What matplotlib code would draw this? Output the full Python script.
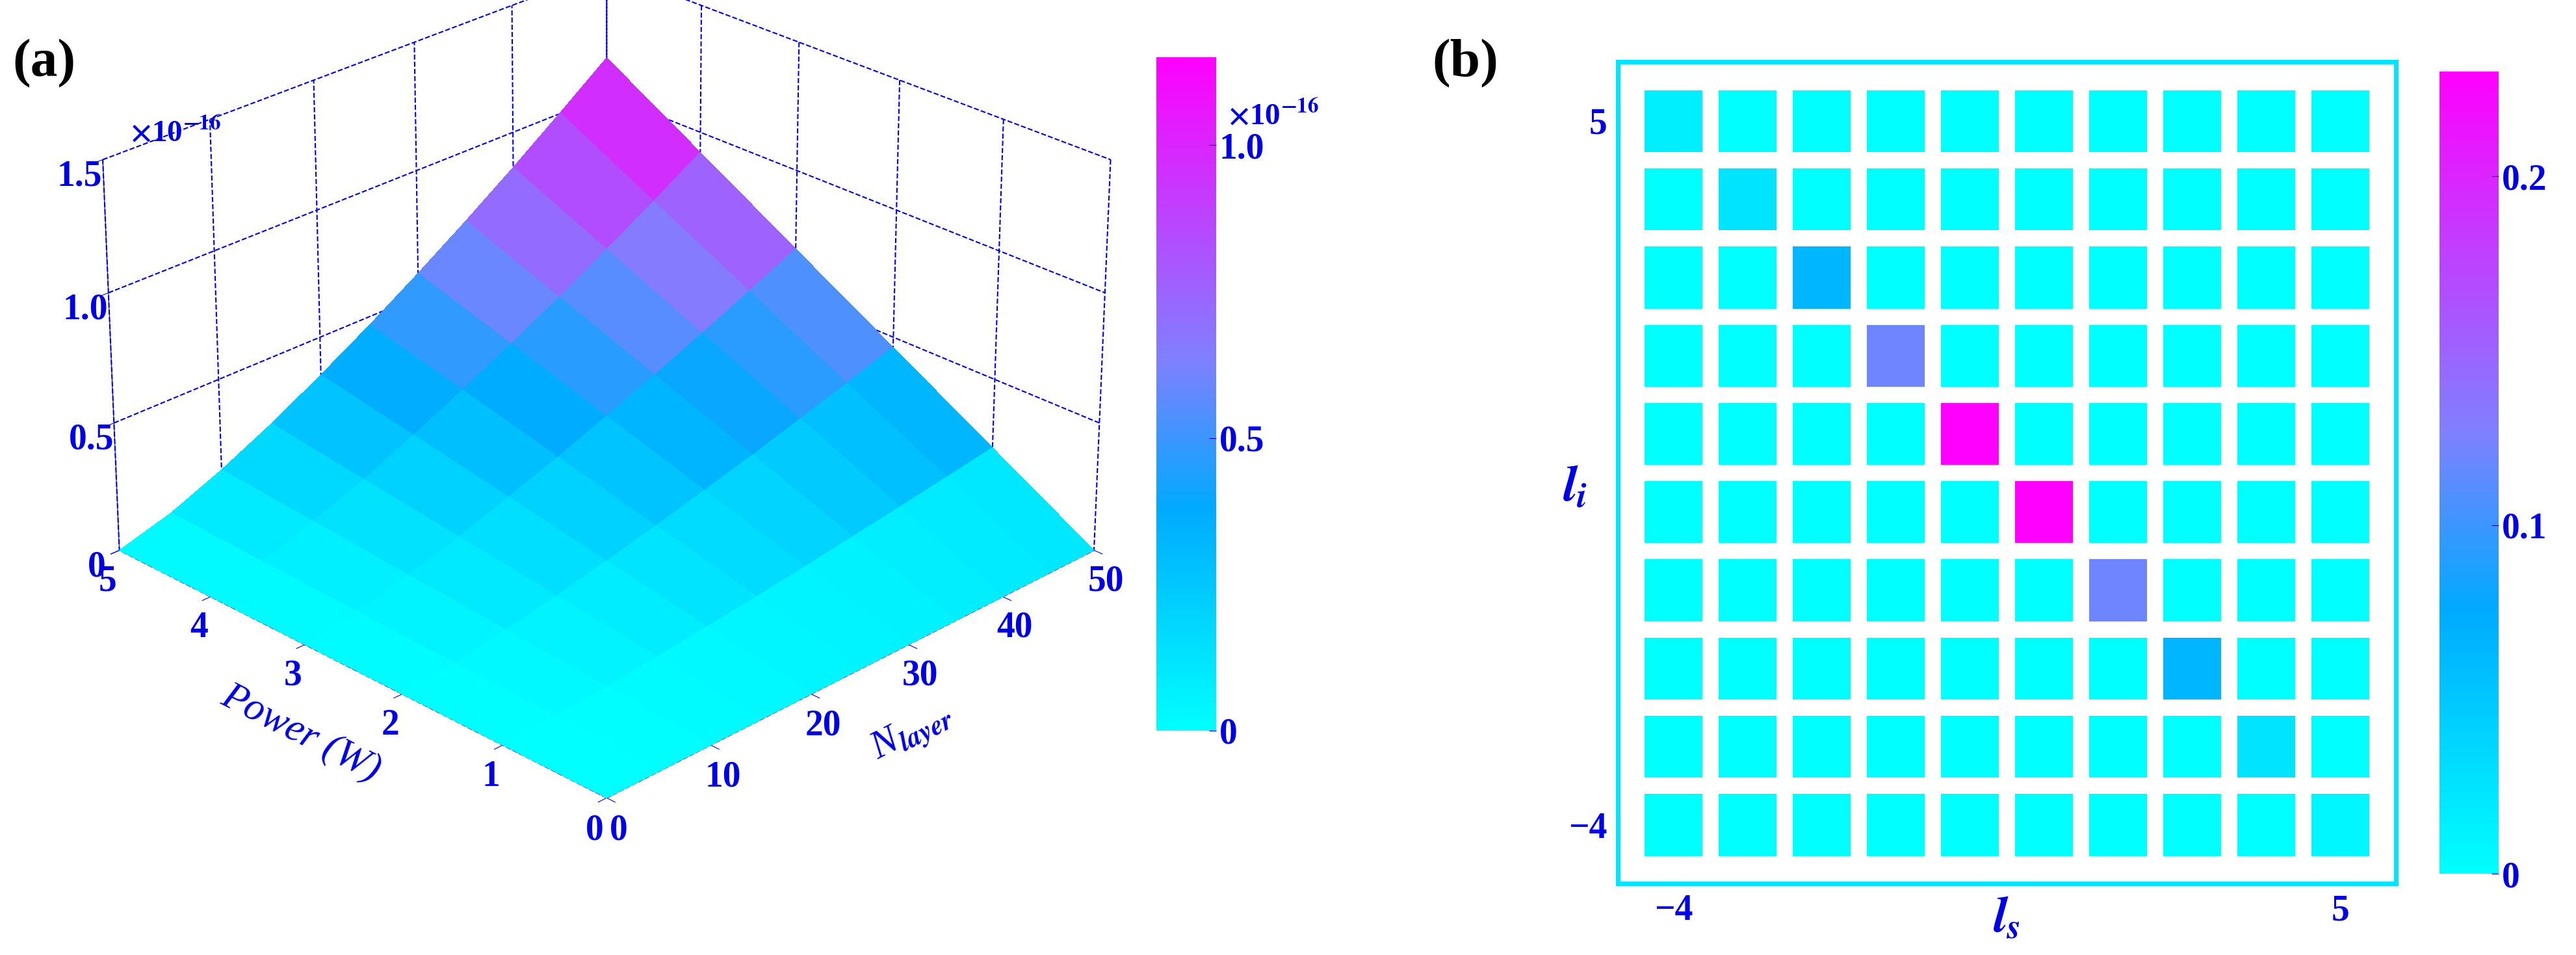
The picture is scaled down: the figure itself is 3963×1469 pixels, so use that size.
import numpy as np
import matplotlib
matplotlib.use("Agg")
import matplotlib.pyplot as plt
from matplotlib.colors import LinearSegmentedColormap

BLUE = "#0000e6"
plt.rcParams["font.family"] = ["Liberation Serif", "DejaVu Serif"]
plt.rcParams["font.weight"] = "bold"
plt.rcParams["mathtext.fontset"] = "stix"

# panel (a): surface, in units of 1e-16
n_layer = [0, 5, 10, 15, 20, 25, 30, 35, 40, 45, 50]
power = [0, 1, 2, 3, 4, 5]
surface = [
    [0, 0, 0, 0, 0, 0, 0, 0, 0, 0, 0],
    [0, 0.012, 0.028, 0.048, 0.070, 0.093, 0.118, 0.145, 0.172, 0.201, 0.230],
    [0, 0.023, 0.057, 0.096, 0.140, 0.187, 0.237, 0.289, 0.344, 0.401, 0.460],
    [0, 0.035, 0.085, 0.144, 0.210, 0.280, 0.355, 0.434, 0.516, 0.602, 0.690],
    [0, 0.046, 0.114, 0.192, 0.280, 0.374, 0.474, 0.578, 0.688, 0.802, 0.920],
    [0, 0.058, 0.142, 0.240, 0.350, 0.467, 0.592, 0.723, 0.860, 1.003, 1.150],
]

# panel (b): joint spectral amplitude, rows l_i = 5 .. -4, cols l_s = -4 .. 5
l_s = list(range(-4, 6))
l_i = list(range(5, -5, -1))
diag = [0.015, 0.025, 0.065, 0.12, 0.23, 0.23, 0.12, 0.065, 0.025, 0.008]

cmap = LinearSegmentedColormap.from_list(
    "cm", [(0, "#00ffff"), (0.33, "#00aaff"), (0.55, "#7f80ff"), (1, "#ff00ff")])

fig = plt.figure(figsize=(39.63, 14.69), dpi=100)

ax = fig.add_axes([-0.02, 0.06, 0.5, 1.1], projection="3d")
ax.set_box_aspect((1, 1, 0.62))
X, Y = np.meshgrid(n_layer, power)
Z = np.array(surface)
ax.plot_surface(X, Y, Z, cmap=cmap, vmin=0, vmax=1.15, linewidth=0,
                antialiased=False, shade=False, rstride=1, cstride=1)
ax.view_init(elev=26, azim=-135)
ax.set_xlim(0, 50)
ax.set_ylim(0, 5)
ax.set_zlim(0, 1.5)
ax.set_xticks([0, 10, 20, 30, 40, 50])
ax.set_yticks([0, 1, 2, 3, 4, 5])
ax.set_zticks([0, 0.5, 1.0, 1.5])
ax.set_zticklabels(["0", "0.5", "1.0", "1.5"])
for a in (ax.xaxis, ax.yaxis, ax.zaxis):
    a.set_pane_color((1, 1, 1, 0))
    a.line.set_color(BLUE)
    a._axinfo["grid"].update(color=BLUE, linestyle="--", linewidth=1.5)
ax.tick_params(labelsize=40, colors=BLUE, pad=6)
ax.set_xlabel(r"N$_{layer}$", fontsize=44, color=BLUE, style="italic", labelpad=40)
ax.set_ylabel("Power (W)", fontsize=44, color=BLUE, style="italic", labelpad=40)
ax.text2D(0.06, 0.72, r"$\times$10$^{-16}$", transform=ax.transAxes,
          fontsize=34, color=BLUE)
fig.text(0.005, 0.92, "(a)", fontsize=60, weight="bold")

sm = plt.cm.ScalarMappable(cmap=cmap, norm=plt.Normalize(0, 1.15))
cax = fig.add_axes([0.449, 0.235, 0.023, 0.705])
cb = fig.colorbar(sm, cax=cax, ticks=[0, 0.5, 1.0])
cb.ax.set_yticklabels(["0", "0.5", "1.0"])
cb.outline.set_visible(False)
cb.ax.tick_params(labelsize=40, colors=BLUE, length=8, direction="in")
cax.text(1.2, 0.9, r"$\times$10$^{-16}$", transform=cax.transAxes,
         fontsize=34, color=BLUE)

# panel (b)
M = np.zeros((10, 10))
for k in range(10):
    M[k, k] = diag[k]
bx = fig.add_axes([0.628, 0.075, 0.302, 0.86])
bx.pcolormesh(np.arange(11) - 4.5, np.arange(11) - 4.5, M[::-1], cmap=cmap,
              vmin=0, vmax=0.23, edgecolors="white", linewidth=18)
bx.set_xlim(-4.75, 5.75)
bx.set_ylim(-4.75, 5.75)
for s in bx.spines.values():
    s.set_color("#00e5ff")
    s.set_linewidth(5)
bx.set_xticks([-4, 5])
bx.set_xticklabels(["\u22124", "5"])
bx.set_yticks([-4, 5])
bx.set_yticklabels(["\u22124", "5"])
bx.tick_params(length=0, labelsize=40, colors=BLUE, pad=12)
bx.text(0.5, -0.045, r"$l_s$", transform=bx.transAxes, fontsize=56,
        color=BLUE, ha="center", va="center")
bx.text(-0.055, 0.48, r"$l_i$", transform=bx.transAxes, fontsize=56,
        color=BLUE, ha="center", va="center")
fig.text(0.556, 0.92, "(b)", fontsize=60, weight="bold")

sm2 = plt.cm.ScalarMappable(cmap=cmap, norm=plt.Normalize(0, 0.23))
cax2 = fig.add_axes([0.947, 0.085, 0.023, 0.84])
cb2 = fig.colorbar(sm2, cax=cax2, ticks=[0, 0.1, 0.2])
cb2.ax.set_yticklabels(["0", "0.1", "0.2"])
cb2.outline.set_visible(False)
cb2.ax.tick_params(labelsize=40, colors=BLUE, length=8, direction="in")

fig.savefig("out.png", dpi=100)
